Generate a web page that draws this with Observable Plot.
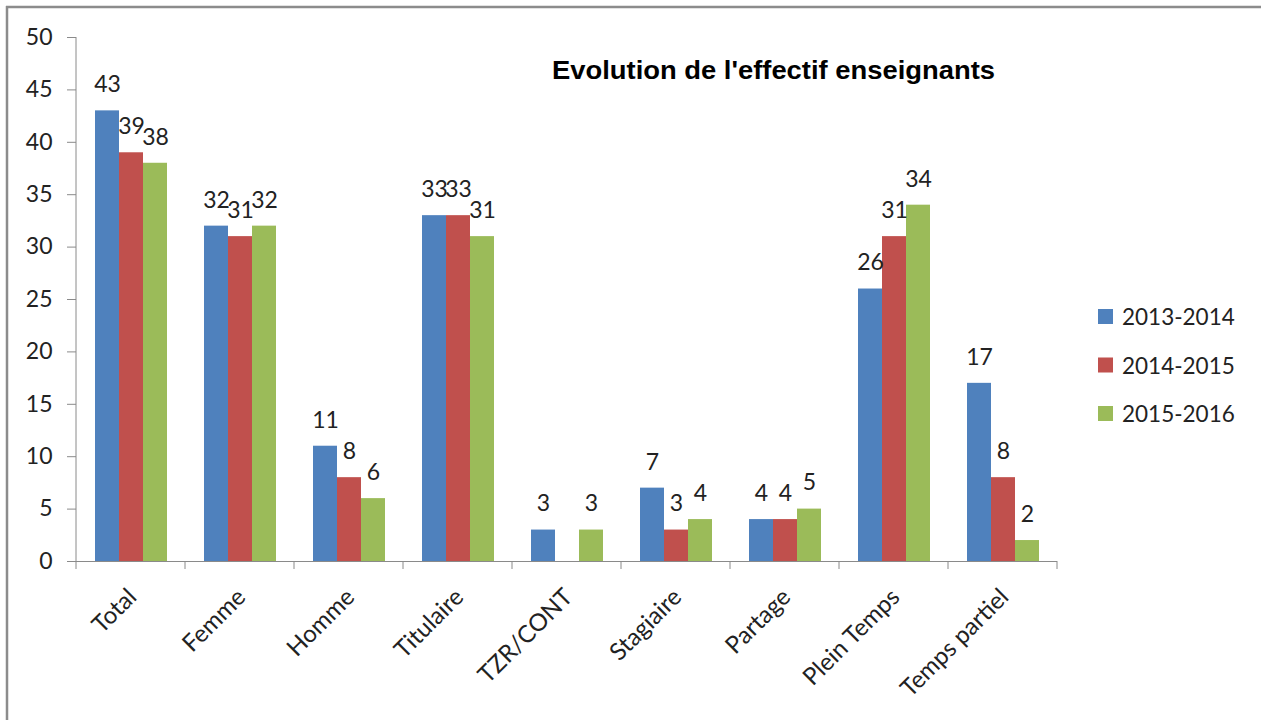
<!DOCTYPE html>
<html><head><meta charset="utf-8">
<script src="https://cdn.jsdelivr.net/npm/d3@7"></script>
<script src="https://cdn.jsdelivr.net/npm/@observablehq/plot@0.6"></script>
<style>
body{margin:0;background:#fff;}
#chart{position:relative;width:1261px;height:720px;overflow:hidden;}
</style></head><body><div id="chart"></div>
<script>
const categories = ["Total","Femme","Homme","Titulaire","TZR/CONT","Stagiaire","Partage","Plein Temps","Temps partiel"];
const seriesNames = ["2013-2014","2014-2015","2015-2016"];
const values2013 = [43,32,11,33,3,7,4,26,17];
const values2014 = [39,31,8,33,null,3,4,31,8];
const values2015 = [38,32,6,31,3,4,5,34,2];
const colors = ["#4F81BD","#C0504D","#9BBB59"];
const yTicks = [0,5,10,15,20,25,30,35,40,45,50];
const titleText = "Evolution de l'effectif enseignants";

const allValues = [values2013, values2014, values2015];
const data = categories.flatMap((c, i) => allValues.map((vals, s) => ({category: c, series: seriesNames[s], value: vals[i]}))).filter(d => d.value != null);

const W = 1261, H = 720;
const axisColor = "#8a8a8a";
const plot = Plot.plot({
  width: W, height: H,
  marginLeft: 73, marginRight: 202, marginTop: 37, marginBottom: 159,
  style: {fontFamily: "Lato, sans-serif", fontSize: "23px", color: "#222", background: "transparent", overflow: "visible"},
  fx: {domain: categories, padding: 0, axis: null, label: null},
  x: {domain: seriesNames, paddingInner: 0, paddingOuter: 0.735, axis: null},
  y: {domain: [0, 50], axis: null, label: null},
  color: {domain: seriesNames, range: colors},
  marks: [
    Plot.axisY({anchor: "left", ticks: yTicks, tickSize: 9, tickPadding: 15, label: null, stroke: axisColor, fill: "#222", fontSize: 23}),
    Plot.ruleY([0], {stroke: axisColor}),
    Plot.barY(data, {fx: "category", x: "series", y: "value", fill: "series"}),
    Plot.text(data, {fx: "category", x: "series", y: "value", text: d => String(d.value), dy: -26, fill: "#222", fontSize: 23}),
    Plot.text(categories, {fx: d => d, text: d => d, frameAnchor: "bottom", rotate: -45, textAnchor: "end", lineAnchor: "top", dx: -5, dy: 25, fill: "#222", fontSize: 24})
  ]
});
document.getElementById("chart").appendChild(plot);

const svg = d3.select(plot);
const ys = plot.scale("y");
const fxs = plot.scale("fx");
const bw = fxs.apply(categories[1]) - fxs.apply(categories[0]);
const y0 = ys.apply(0), y50 = ys.apply(50);
const xLeft = fxs.apply(categories[0]);
const xRight = fxs.apply(categories[categories.length - 1]) + bw;

const g = svg.append("g");
g.append("line").attr("x1", xLeft).attr("x2", xLeft).attr("y1", y50).attr("y2", y0).attr("stroke", axisColor);
const bounds = categories.map(c => fxs.apply(c)).concat([xRight]);
g.selectAll("line.tk").data(bounds).join("line").attr("class", "tk")
  .attr("x1", d => d).attr("x2", d => d).attr("y1", y0).attr("y2", y0 + 8).attr("stroke", axisColor);

// title
svg.append("text").attr("x", 552).attr("y", 79).attr("text-anchor", "start")
  .attr("font-family", "Liberation Sans, Arial, sans-serif").attr("font-weight", "bold").attr("font-size", 25)
  .attr("textLength", 443).attr("lengthAdjust", "spacingAndGlyphs").attr("fill", "#000").text(titleText);

// legend
const lg = svg.append("g");
seriesNames.forEach((s, i) => {
  const top = 309 + i * 48.5;
  lg.append("rect").attr("x", 1098).attr("y", top).attr("width", 15).attr("height", 15).attr("fill", colors[i]);
  lg.append("text").attr("x", 1122).attr("y", top + 16).attr("text-anchor", "start").attr("font-family", "Lato, sans-serif").attr("font-size", 22.5).attr("fill", "#222").text(s);
});

// outer frame
svg.append("line").attr("x1", 6).attr("x2", W).attr("y1", 7).attr("y2", 7).attr("stroke", "#8c8c8c").attr("stroke-width", 2.5);
svg.append("line").attr("x1", 7).attr("x2", 7).attr("y1", 6).attr("y2", H).attr("stroke", "#8c8c8c").attr("stroke-width", 2.5);
</script>
</body></html>
